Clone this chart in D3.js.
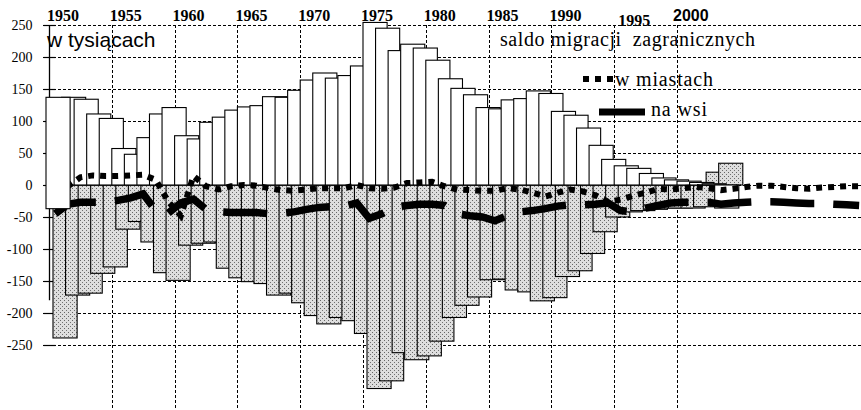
<!DOCTYPE html>
<html>
<head>
<meta charset="utf-8">
<script src="https://cdn.jsdelivr.net/npm/d3@7"></script>
<style>
  body { margin: 0; background: #fff; }
  svg { display: block; }
</style>
</head>
<body>
<svg id="chart" width="861" height="410"></svg>
<script>
// years shown as bars (1950-2003) and as lines (1950-2014)
const barYears = d3.range(1950, 2004);
const lineYears = d3.range(1950, 2015);

// migration balance, thousands (white bars: towns, stippled bars: villages)
const cityBars = [
  137, 137, 134, 111, 104, 57, 48, 74, 111, 121,
  77, 72, 98, 106, 117, 122, 124, 138, 137, 148,
  164, 175, 167, 171, 186, 254, 245, 210, 220, 214,
  195, 166, 151, 141, 121, 119, 133, 135, 147, 143,
  115, 109, 89, 62, 40, 30, 26, 18, 11, 8,
  6, 4, 2, -36
];
const villageBars = [
  -239, -172, -169, -138, -128, -69, -57, -89, -137, -149,
  -94, -91, -89, -130, -145, -151, -154, -172, -169, -184,
  -204, -217, -207, -212, -232, -318, -306, -262, -273, -267,
  -244, -207, -188, -175, -148, -147, -164, -167, -181, -176,
  -143, -134, -107, -73, -50, -42, -40, -38, -36, -36,
  -36, -34, 20, 34
];
// the 1950 town bar reaches below zero in the source
const firstBarFloor = -37;

// international migration balance
const cityIntl = [
  -5, -2, 12, 15, 14, 14, 15, 16, 8, -26,
  -48, 14, -2, -7, -2, 0, -1, -5, -8, -9,
  -7, -5, -5, -5, 0, -5, -6, -4, 3, 4,
  5, -2, -7, -8, -9, -9, -5, -7, -12, -18,
  -12, -7, -10, -16, -26, -23, -17, -12, -6, -7,
  -5, -3, -5, -8, -6, -3, -1, -1, -3, -5,
  -6, -4, -3, -2, -2
];
const villageIntl = [
  -45, -30, -27, -27, -27, -24, -20, -14, -40, -44,
  -28, -22, -38, -42, -43, -43, -43, -45, -44, -42,
  -38, -35, -34, -33, -28, -52, -45, -35, -32, -30,
  -30, -32, -45, -48, -50, -56, -48, -42, -40, -37,
  -33, -31, -31, -30, -28, -40, -42, -36, -32, -28,
  -27, -27, -27, -30, -28, -27, -26, -26, -27, -28,
  -29, -29, -30, -31, -32
];

const yTicks = [250, 200, 150, 100, 50, 0, -50, -100, -150, -200, -250];
const decadeTicks = [1950, 1955, 1960, 1965, 1970, 1975, 1980, 1985, 1990, 1995, 2000];
const legendLabels = ['w miastach', 'na wsi'];

const svg = d3.select('#chart');
const serif = '"Liberation Serif", "Times New Roman", serif';
const sans = '"Liberation Sans", Arial, sans-serif';

const x = d3.scaleLinear().domain([1950, 2000]).range([49, 677]);
const y = d3.scaleLinear().domain([-250, 250]).range([345, 25]);
const barW = x(1952) - x(1950) - 1;

// stipple fill for the village bars
const pat = svg.append('defs').append('pattern')
  .attr('id', 'stipple')
  .attr('patternUnits', 'userSpaceOnUse')
  .attr('width', 4)
  .attr('height', 4);
pat.append('rect').attr('width', 4).attr('height', 4).attr('fill', '#dedede');
pat.append('rect').attr('width', 1).attr('height', 1).attr('fill', '#666');
pat.append('rect').attr('x', 2).attr('y', 2).attr('width', 1).attr('height', 1).attr('fill', '#707070');

svg.append('rect').attr('width', 861).attr('height', 410).attr('fill', '#fff');

// grid
const grid = svg.append('g').attr('stroke', '#000').attr('stroke-width', 1).attr('stroke-dasharray', '3,2');
grid.selectAll('line.h')
  .data(yTicks)
  .join('line')
  .attr('class', 'h')
  .attr('x1', 43)
  .attr('x2', 861)
  .attr('y1', (d) => Math.round(y(d)) + 0.5)
  .attr('y2', (d) => Math.round(y(d)) + 0.5);
grid.selectAll('line.v')
  .data(decadeTicks.slice(1))
  .join('line')
  .attr('class', 'v')
  .attr('x1', (d) => Math.round(x(d)) + 0.5)
  .attr('x2', (d) => Math.round(x(d)) + 0.5)
  .attr('y1', y(250))
  .attr('y2', 410);

// y axis
const yAxis = svg.append('g')
  .attr('transform', `translate(${Math.round(x(1950)) + 0.5},0)`)
  .call(d3.axisLeft(y).tickValues(yTicks).tickSize(6).tickPadding(11).tickFormat((d) => String(d)));
yAxis.select('.domain').remove();
yAxis.selectAll('.tick line').attr('x1', 6).attr('stroke-width', 1.2);
yAxis.selectAll('.tick text')
  .attr('font-family', serif)
  .attr('font-size', 14)
  .attr('fill', '#000');
yAxis.append('line')
  .attr('y1', y(250))
  .attr('y2', y(-180))
  .attr('stroke', '#000')
  .attr('stroke-width', 1.3);

// year labels along the top
svg.append('g')
  .selectAll('text')
  .data(decadeTicks)
  .join('text')
  .attr('x', (d) => x(d) + (d === 1995 ? 4 : d === 2000 ? -4 : -2))
  .attr('y', (d) => (d === 1995 ? 26 : 21))
  .attr('font-family', (d) => (d === 2000 ? sans : serif))
  .attr('font-weight', 'bold')
  .attr('font-size', 16)
  .text((d) => d);

// bars
const bars = svg.append('g').attr('stroke', '#000').attr('stroke-width', 1.1);
bars.selectAll('rect.village')
  .data(villageBars)
  .join('rect')
  .attr('class', 'village')
  .attr('x', (d, i) => x(barYears[i]) + 4)
  .attr('width', barW)
  .attr('y', (d) => y(Math.max(0, d)))
  .attr('height', (d) => Math.abs(y(d) - y(0)))
  .attr('fill', 'url(#stipple)');
bars.selectAll('rect.city')
  .data(cityBars.slice(1))
  .join('rect')
  .attr('class', 'city')
  .attr('x', (d, i) => x(barYears[i + 1]))
  .attr('width', barW)
  .attr('y', (d) => y(Math.max(0, d)))
  .attr('height', (d) => Math.abs(y(d) - y(0)))
  .attr('fill', '#fff');

// international migration lines
const line = d3.line()
  .x((d, i) => x(lineYears[i] + 0.5))
  .y((d) => y(d));

svg.append('path')
  .datum(villageIntl)
  .attr('d', line)
  .attr('fill', 'none')
  .attr('stroke', '#000')
  .attr('stroke-width', 7.5)
  .attr('stroke-dasharray', '44,19');

svg.append('path')
  .datum(cityIntl)
  .attr('d', line)
  .attr('fill', 'none')
  .attr('stroke', '#000')
  .attr('stroke-width', 6)
  .attr('stroke-dasharray', '6,6');

// first town bar sits on top of everything
svg.append('rect')
  .attr('x', x(barYears[0]) - 3)
  .attr('width', barW)
  .attr('y', y(cityBars[0]))
  .attr('height', y(firstBarFloor) - y(cityBars[0]))
  .attr('fill', '#fff')
  .attr('stroke', '#000')
  .attr('stroke-width', 1.1);

// titles
svg.append('text')
  .attr('x', 47)
  .attr('y', 47)
  .attr('font-family', sans)
  .attr('font-size', 21)
  .text('w tysiącach');

svg.append('text')
  .attr('x', 500)
  .attr('y', 46)
  .attr('font-family', serif)
  .attr('font-size', 20)
  .attr('textLength', 255)
  .style('white-space', 'pre')
  .text('saldo migracji  zagranicznych');

// legend
const legend = svg.append('g');
legend.append('line')
  .attr('x1', 583).attr('x2', 614)
  .attr('y1', 79).attr('y2', 79)
  .attr('stroke', '#000')
  .attr('stroke-width', 6)
  .attr('stroke-dasharray', '6,6');
legend.append('line')
  .attr('x1', 599).attr('x2', 645)
  .attr('y1', 112).attr('y2', 112)
  .attr('stroke', '#000')
  .attr('stroke-width', 7);
legend.selectAll('text')
  .data(legendLabels)
  .join('text')
  .attr('x', (d, i) => (i === 0 ? 615 : 651))
  .attr('y', (d, i) => (i === 0 ? 86 : 116))
  .attr('font-family', serif)
  .attr('font-size', 20)
  .attr('textLength', (d, i) => (i === 0 ? 98 : 56))
  .text((d) => d);
</script>
</body>
</html>
